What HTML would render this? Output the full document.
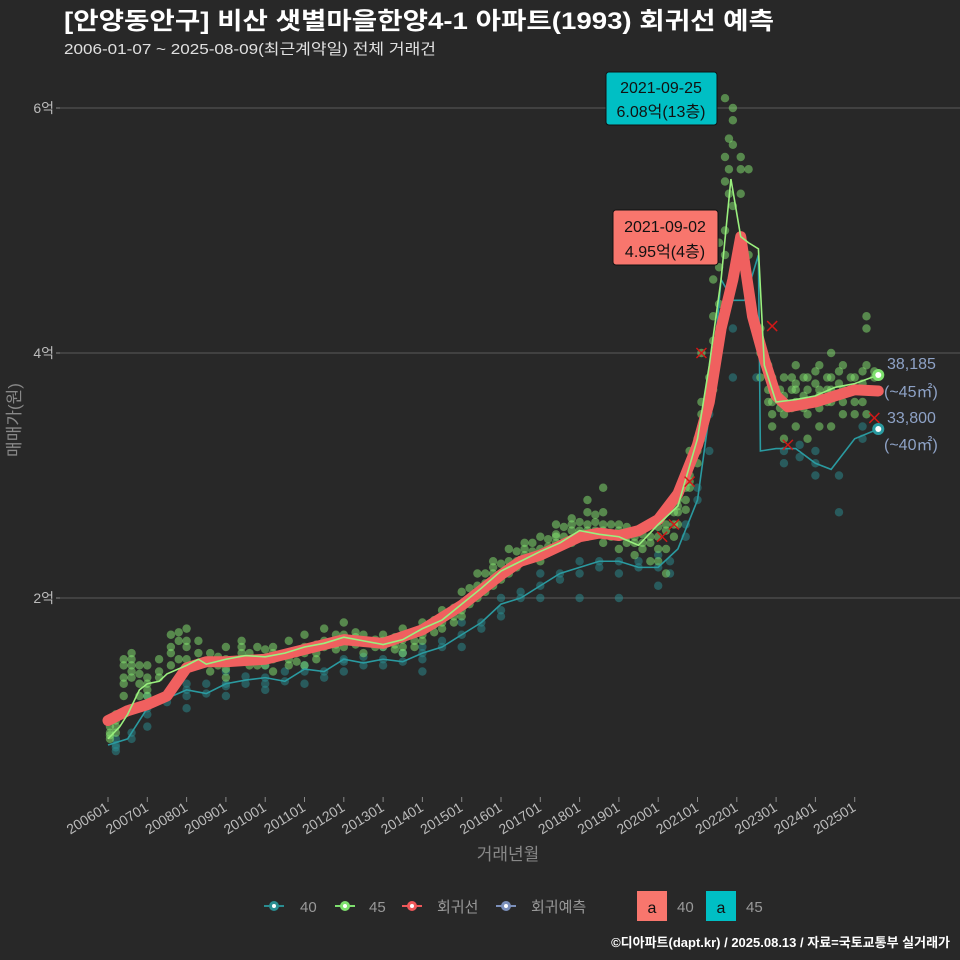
<!DOCTYPE html>
<html><head><meta charset="utf-8">
<style>
html,body{margin:0;padding:0;background:#282828;}
svg{display:block;font-family:"Liberation Sans","Noto Sans CJK KR",sans-serif;}
</style></head>
<body>
<svg id="chart" width="960" height="960" viewBox="0 0 960 960">
<rect x="0" y="0" width="960" height="960" fill="#282828"/>
<text x="64" y="29" fill="#ffffff" font-size="24" font-weight="bold" textLength="710" lengthAdjust="spacingAndGlyphs">[안양동안구] 비산 샛별마을한양4-1 아파트(1993) 회귀선 예측</text>
<text x="64" y="54" fill="#e0e0e0" font-size="15" textLength="372" lengthAdjust="spacingAndGlyphs">2006-01-07 ~ 2025-08-09(최근계약일) 전체 거래건</text>
<g id="grid"></g>
<g id="yticks"></g>
<g id="xticks"></g>
<g id="pts"></g>
<g id="lines"></g>
<text x="20" y="420" fill="#888" font-size="17" text-anchor="middle" transform="rotate(-90 20 420)">매매가(원)</text>
<text x="508" y="860" fill="#888" font-size="17" text-anchor="middle">거래년월</text>

<g>
<rect x="606" y="72" width="111" height="53" rx="3" fill="#00bfc4" stroke="#111" stroke-width="1"/>
<text x="661" y="93" font-size="16" text-anchor="middle" fill="#111">2021-09-25</text>
<text x="661" y="117" font-size="16" text-anchor="middle" fill="#111">6.08억(13층)</text>
</g>
<g>
<rect x="613" y="210" width="105" height="55" rx="3" fill="#f8766d" stroke="#111" stroke-width="1"/>
<text x="665" y="232" font-size="16" text-anchor="middle" fill="#111">2021-09-02</text>
<text x="665" y="257" font-size="16" text-anchor="middle" fill="#111">4.95억(4층)</text>
</g>
<g fill="#8ea2c6" font-size="16">
<text x="887" y="369">38,185</text>
<text x="884" y="397">(~45㎡)</text>
<text x="887" y="423">33,800</text>
<text x="884" y="450">(~40㎡)</text>
</g>

<g font-size="15" fill="#999">
<g><line x1="264" y1="906" x2="284" y2="906" stroke="#2a8d91" stroke-width="2"/><circle cx="274" cy="906" r="5" fill="#2a8d91"/><circle cx="274" cy="906" r="2" fill="#fff"/><text x="300" y="912">40</text></g>
<g><line x1="335" y1="906" x2="355" y2="906" stroke="#7ee06e" stroke-width="2"/><circle cx="345" cy="906" r="5" fill="#7ee06e"/><circle cx="345" cy="906" r="2" fill="#fff"/><text x="369" y="912">45</text></g>
<g><line x1="402" y1="906" x2="422" y2="906" stroke="#f0585a" stroke-width="2"/><circle cx="412" cy="906" r="5" fill="#f0585a"/><circle cx="412" cy="906" r="2" fill="#fff"/><text x="437" y="912">회귀선</text></g>
<g><line x1="496" y1="906" x2="516" y2="906" stroke="#7b8fba" stroke-width="2"/><circle cx="506" cy="906" r="5" fill="#7b8fba"/><circle cx="506" cy="906" r="2" fill="#fff"/><text x="531" y="912">회귀예측</text></g>
<g><rect x="637" y="891" width="30" height="30" fill="#f8766d"/><text x="652" y="913" text-anchor="middle" fill="#111" font-size="16">a</text><text x="677" y="912">40</text></g>
<g><rect x="706" y="891" width="30" height="30" fill="#00bfc4"/><text x="721" y="913" text-anchor="middle" fill="#111" font-size="16">a</text><text x="746" y="912">45</text></g>
</g>
<text x="950" y="947" fill="#fff" font-size="13" font-weight="bold" text-anchor="end">©디아파트(dapt.kr) / 2025.08.13 / 자료=국토교통부 실거래가</text>
</svg>
<script>
const yTicks=[2,4,6];
const xTickYears=[2006,2007,2008,2009,2010,2011,2012,2013,2014,2015,2016,2017,2018,2019,2020,2021,2022,2023,2024,2025];
const regT=[2006.0,2006.5,2007.0,2007.5,2008.0,2008.5,2009,2010,2011,2012,2013,2014,2015,2016,2016.5,2017,2018,2018.5,2019,2019.5,2020,2020.5,2021,2021.3,2021.6,2021.9,2022.1,2022.4,2022.7,2023.0,2023.3,2024,2024.5,2025,2025.6];
const regV=[1.0,1.08,1.13,1.2,1.43,1.48,1.48,1.5,1.58,1.66,1.63,1.74,1.94,2.19,2.3,2.35,2.5,2.53,2.51,2.55,2.64,2.85,3.25,3.6,4.2,4.6,4.95,4.3,3.95,3.65,3.56,3.6,3.65,3.7,3.69];
const g45T=[2006.0,2006.3,2006.5,2006.8,2007.0,2007.3,2007.5,2008.0,2008.3,2008.5,2009,2009.5,2010,2010.5,2011,2011.5,2012,2012.5,2013,2013.5,2014,2014.5,2015,2015.5,2016,2016.5,2017,2017.5,2018,2018.5,2019,2019.5,2020,2020.5,2021,2021.3,2021.6,2021.85,2022.1,2022.3,2022.55,2022.7,2023.0,2023.5,2024,2024.5,2025,2025.6];
const g45V=[0.85,0.95,1.05,1.25,1.3,1.32,1.38,1.45,1.5,1.46,1.5,1.53,1.52,1.55,1.6,1.63,1.68,1.65,1.62,1.66,1.75,1.82,1.95,2.08,2.22,2.3,2.38,2.45,2.55,2.52,2.5,2.43,2.6,2.75,3.3,3.9,4.6,5.42,4.95,4.9,4.85,3.9,3.6,3.62,3.65,3.72,3.75,3.82];
const t40T=[2006.0,2006.5,2007,2007.5,2008,2008.5,2009,2009.5,2010,2010.5,2011,2011.5,2012,2012.5,2013,2013.5,2014,2014.5,2015,2015.5,2016,2016.5,2017,2017.5,2018,2018.5,2019,2019.5,2020,2020.5,2021,2021.3,2021.6,2021.9,2022.2,2022.55,2022.6,2023.0,2023.5,2024.0,2024.4,2025,2025.6];
const t40V=[0.8,0.85,1.1,1.18,1.25,1.22,1.3,1.33,1.35,1.32,1.42,1.4,1.5,1.47,1.5,1.48,1.55,1.6,1.7,1.8,1.95,2.0,2.1,2.2,2.25,2.3,2.3,2.25,2.25,2.4,2.8,3.5,4.6,4.43,4.43,4.8,3.2,3.22,3.22,3.1,3.05,3.3,3.38];
const scatter45=[[2006.05,.85,.9,.95,1.0,.88],[2006.2,.9,1.05,.95,1.0],[2006.4,1.3,1.45,1.2,1.35,1.5],[2006.6,1.5,1.35,1.4,1.45,1.55],[2006.8,1.3,1.45,1.2,1.38],[2007.0,1.3,1.45,1.2,1.35,1.25],[2007.3,1.35,1.5,1.4],[2007.6,1.45,1.7,1.55,1.6],[2007.8,1.5,1.65,1.72],[2008.0,1.6,1.75,1.5,1.65],[2008.3,1.65,1.55,1.45],[2008.6,1.4,1.55,1.48],[2008.8,1.45,1.52],[2009.0,1.35,1.5,1.6,1.42],[2009.4,1.5,1.65,1.55,1.6],[2009.6,1.45,1.55],[2009.8,1.6,1.45,1.5],[2010.0,1.5,1.58,1.45],[2010.2,1.55,1.4,1.6,1.5],[2010.6,1.5,1.65,1.45,1.55],[2010.8,1.55,1.48],[2011.0,1.55,1.7,1.45,1.6],[2011.3,1.55,1.62,1.5],[2011.5,1.6,1.75,1.65],[2011.8,1.62,1.7,1.58],[2012.0,1.7,1.6,1.8,1.65],[2012.3,1.68,1.62,1.72],[2012.5,1.65,1.55,1.7],[2012.8,1.6,1.66],[2013.0,1.6,1.7,1.65],[2013.3,1.62,1.58,1.68],[2013.5,1.6,1.75,1.55,1.66],[2013.8,1.65,1.72,1.6],[2014.0,1.7,1.8,1.65,1.75],[2014.3,1.72,1.82,1.78],[2014.5,1.8,1.9,1.75],[2014.8,1.85,1.92,1.8],[2015.0,1.95,1.85,2.05,1.9],[2015.2,2.0,1.95,2.08],[2015.4,2.1,2.0,2.2,2.05],[2015.6,2.12,2.2,2.05],[2015.8,2.2,2.3,2.1,2.25],[2016.0,2.2,2.28,2.15],[2016.2,2.3,2.2,2.4,2.25],[2016.4,2.3,2.38,2.25],[2016.6,2.35,2.45,2.3,2.4],[2016.8,2.38,2.32,2.45],[2017.0,2.4,2.3,2.5,2.35],[2017.2,2.42,2.48,2.38],[2017.4,2.5,2.45,2.6,2.52],[2017.6,2.5,2.58,2.45],[2017.8,2.55,2.65,2.45,2.6],[2018.0,2.55,2.62,2.5],[2018.2,2.6,2.5,2.7,2.8,2.55],[2018.4,2.55,2.62,2.68],[2018.6,2.55,2.7,2.9,2.45,2.6],[2018.8,2.52,2.6,2.5],[2019.0,2.5,2.6,2.4,2.55],[2019.2,2.5,2.45,2.58],[2019.4,2.45,2.55,2.35,2.5],[2019.6,2.45,2.52,2.4],[2019.8,2.5,2.6,2.3,2.45],[2020.0,2.5,2.58,2.4,2.3],[2020.2,2.55,2.7,2.4,2.2,2.6],[2020.4,2.6,2.7,2.5],[2020.5,2.7,2.8,2.6,2.75],[2020.7,2.8,2.9,2.72],[2020.8,2.9,3.0,3.2,2.95],[2021.0,3.1,3.3,3.2],[2021.1,3.4,3.6,3.3,4.0,3.5],[2021.3,3.7,3.8,3.6],[2021.4,3.9,4.3,4.6,3.7,4.1],[2021.55,4.4,4.7,4.9],[2021.7,4.8,5.0,5.4,5.6,6.08],[2021.8,5.3,5.5,5.75],[2021.9,5.7,5.9,5.2,6.0],[2022.1,5.6,5.3,4.9,5.5],[2022.3,5.5,4.5,4.8],[2022.6,4.2,3.8,4.0],[2022.8,3.7,3.9,3.6],[2022.9,3.7,3.5,3.8,3.4,3.6],[2023.1,3.6,3.7,3.55],[2023.2,3.6,3.5,3.8,3.3,3.65],[2023.4,3.55,3.7,3.8],[2023.5,3.7,3.6,3.4,3.9,3.75],[2023.7,3.65,3.8,3.55],[2023.8,3.5,3.8,3.6,3.3,3.7],[2024.0,3.6,3.75,3.85],[2024.1,3.7,3.9,3.55,3.4,3.65],[2024.3,3.7,3.8,3.6],[2024.4,3.6,3.8,4.0,3.4,3.7],[2024.6,3.65,3.75,3.85],[2024.7,3.7,3.5,3.9,3.6],[2024.9,3.7,3.8],[2025.0,3.6,3.8,3.5,3.7],[2025.2,3.75,3.85,3.6],[2025.3,3.7,3.9,4.2,4.3,3.5],[2025.5,3.8,3.7,3.85]];
const scatter40=[[2006.2,.75,.8,.85,.78],[2006.6,.9,.85],[2007.0,1.1,1.2,.95,1.05],[2007.5,1.15,1.22],[2008,1.25,1.3,1.1,1.2],[2008.5,1.22,1.3],[2009,1.3,1.2,1.4,1.28],[2009.5,1.3,1.36],[2010,1.35,1.25,1.45,1.3],[2010.5,1.32,1.4],[2011,1.4,1.3,1.45],[2011.5,1.4,1.35],[2012,1.5,1.4,1.48],[2012.5,1.45,1.52],[2013,1.5,1.45,1.6],[2013.5,1.48,1.55],[2014,1.5,1.6,1.4,1.55],[2014.5,1.6,1.65],[2015,1.7,1.6,1.8],[2015.5,1.8,1.75],[2016,1.9,2.0,1.85],[2016.5,2.0,2.05],[2017,2.1,2.0,2.2],[2017.5,2.15,2.2],[2018,2.2,2.3,2.0],[2018.5,2.25,2.3],[2019,2.3,2.2,2.0],[2019.5,2.25,2.3],[2020,2.25,2.1,2.35],[2020.3,2.3,2.2],[2020.7,2.5,2.6],[2021.0,2.8,2.9],[2021.3,3.5,3.2],[2021.9,4.2,3.8],[2022.5,3.8],[2023.2,3.2,3.1],[2023.6,3.25,3.15],[2024,3.1,3.0,3.2],[2024.6,3.0,2.7],[2025.2,3.3,3.4]];
const crossT=[2020.1,2020.4,2020.8,2021.1,2022.9,2023.3,2025.5];
const crossV=[2.5,2.6,2.95,4.0,4.22,3.25,3.47];

const NS="http://www.w3.org/2000/svg";
const X=t=>108+(t-2006)*39.3;
const Y=v=>843-122.5*v;
function mk(tag,parent,attrs){const e=document.createElementNS(NS,tag);for(const k in attrs)e.setAttribute(k,attrs[k]);parent.appendChild(e);return e;}
const grid=document.getElementById('grid'),yt=document.getElementById('yticks'),xt=document.getElementById('xticks'),pts=document.getElementById('pts'),lines=document.getElementById('lines');
yTicks.forEach(v=>{
 const l=mk('line',grid,{x1:60,x2:960,y1:Y(v),y2:Y(v),stroke:'#5a5a5a','stroke-width':1});
 
 
 const tk=mk('line',yt,{x1:56,x2:60,y1:Y(v),y2:Y(v),stroke:'#888'});
 
 
 const tx=mk('text',yt,{x:54,y:Y(v)+5,fill:'#bbb','font-size':14,'text-anchor':'end'});
 tx.textContent=v+'억';
 
 
});
xTickYears.forEach(yr=>{
 const x=X(yr);
 const tk=mk('line',xt,{x1:x,x2:x,y1:797,y2:802,stroke:'#888'});
 
 
 const tx=mk('text',xt,{x:x+2,y:810,fill:'#bbb','font-size':14,'text-anchor':'end',transform:`rotate(-32 ${x+2} 810)`});
 tx.textContent=yr+'01';
 
 
});
function drawScatter(arr,color,op,name){
 arr.forEach(r=>{for(let i=1;i<r.length;i++){
  const c=mk('circle',pts,{cx:X(r[0]),cy:Y(r[i]),r:4.2,fill:color,'fill-opacity':op});
  
  
 }});
}
drawScatter(scatter40,'#2a8d91',0.5,'point-40');
drawScatter(scatter45,'#86e872',0.5,'point-45');
function path(T,V){let d='';T.forEach((t,i)=>{d+=(i===0?'M':' L')+X(t)+','+Y(V[i]);});return d;}
const p40=mk('path',lines,{d:path(t40T,t40V),fill:'none',stroke:'#2a9aa0','stroke-width':1.6});


const preg=mk('path',lines,{d:path(regT,regV),fill:'none',stroke:'#f0605f','stroke-width':11,'stroke-linecap':'round','stroke-linejoin':'round'});


const p45=mk('path',lines,{d:path(g45T,g45V),fill:'none',stroke:'#9af07e','stroke-width':1.6});


crossT.forEach((t,i)=>{
 const x=X(t),y=Y(crossV[i]);
 const c=mk('path',lines,{d:`M${x-5},${y-5}L${x+5},${y+5}M${x-5},${y+5}L${x+5},${y-5}`,stroke:'#d01818','stroke-width':1.5});
 
 
});
[[g45T,g45V,'#7ee06e','end-point-45'],[t40T,t40V,'#2a9aa0','end-point-40']].forEach(s=>{
 const n=s[0].length-1;
 const c=mk('circle',lines,{cx:X(s[0][n]),cy:Y(s[1][n]),r:6,fill:s[2]});
 
 
 const w=mk('circle',lines,{cx:X(s[0][n]),cy:Y(s[1][n]),r:3,fill:'#fff'});
 
 
});
</script>
</body></html>
